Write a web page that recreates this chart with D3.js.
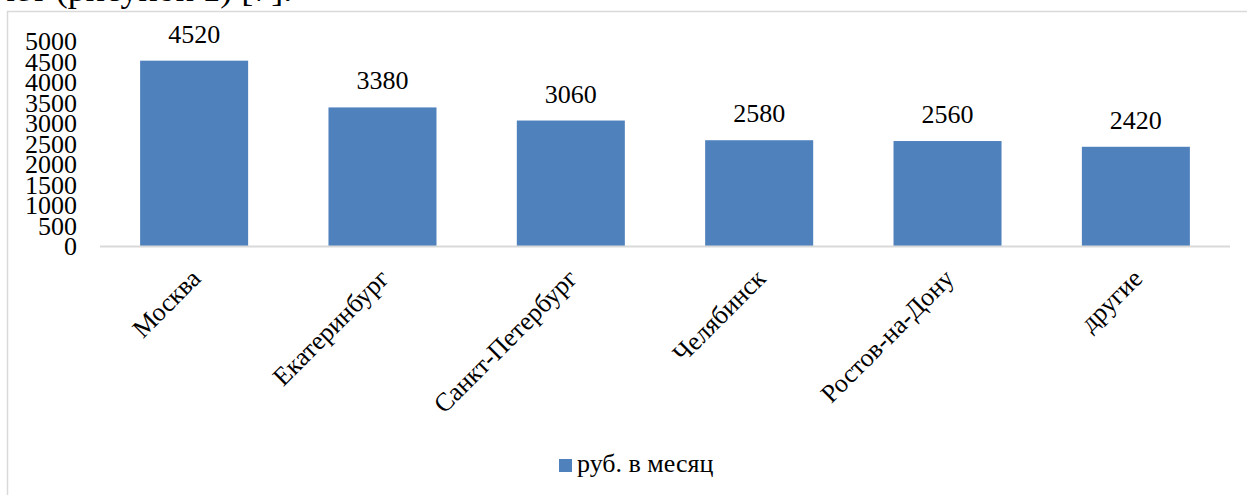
<!DOCTYPE html>
<html>
<head>
<meta charset="utf-8">
<script src="https://cdn.jsdelivr.net/npm/d3@7"></script>
<style>
  body { margin: 0; background: #fff; }
  svg text { font-family: "Times New Roman", "Liberation Serif", serif !important; fill: #000; }
</style>
</head>
<body>
<svg></svg>
<script>
// data
var cities = ["Москва", "Екатеринбург", "Санкт-Петербург", "Челябинск", "Ростов-на-Дону", "другие"];
var rubPerMonth = [4520, 3380, 3060, 2580, 2560, 2420];
var yTicks = [0, 500, 1000, 1500, 2000, 2500, 3000, 3500, 4000, 4500, 5000];
var seriesName = "руб. в месяц";
var cutText = "чет (рисунок 1) [7].";

var screen = {width: 1247, height: 495};
var margins = {top: 41, right: 17, bottom: 249, left: 100};
var barColor = "#4F81BD";
var gridColor = "#D9D9D9";
var serif = "'Liberation Serif', 'Times New Roman', serif";

var svg = d3.select("svg")
    .attr("width", screen.width)
    .attr("height", screen.height)
    .attr("font-family", serif);

// piece of the document text above the chart
svg.append("text")
    .attr("x", -3)
    .attr("y", 1)
    .attr("font-family", serif)
    .style("font-size", "36px")
    .text(cutText);

// chart border
svg.append("rect")
    .attr("x", 7.5)
    .attr("y", 11.5)
    .attr("width", 1300)
    .attr("height", 600)
    .attr("fill", "none")
    .attr("stroke", gridColor)
    .attr("stroke-width", 1.5);

var baseY = 246;

var xScale = d3.scaleBand()
    .domain(cities)
    .range([margins.left, 1230])
    .paddingInner(0.4265)
    .paddingOuter(0.213);

var yScale = d3.scaleLinear()
    .domain([0, 5000])
    .range([baseY, margins.top]);

// y axis labels only
var yAxis = d3.axisLeft(yScale)
    .tickValues(yTicks)
    .tickFormat(d3.format("d"))
    .tickSize(0)
    .tickPadding(0);

var gy = svg.append("g")
    .attr("transform", "translate(77,0)")
    .call(yAxis)
    .attr("font-family", serif)
    .attr("font-size", 26);
gy.select(".domain").remove();
gy.selectAll("text")
    .attr("dy", "0.34em")
    .attr("fill", "#000");

// bars
svg.append("g")
    .selectAll("rect")
    .data(rubPerMonth)
    .enter()
    .append("rect")
    .attr("x", function(d, i) { return xScale(cities[i]); })
    .attr("y", function(d) { return yScale(d); })
    .attr("width", xScale.bandwidth())
    .attr("height", function(d) { return baseY - yScale(d); })
    .attr("fill", barColor);

// x axis line
svg.append("line")
    .attr("x1", margins.left)
    .attr("x2", 1230)
    .attr("y1", baseY + 0.5)
    .attr("y2", baseY + 0.5)
    .attr("stroke", gridColor)
    .attr("stroke-width", 2);

// value labels
svg.append("g")
    .selectAll("text")
    .data(rubPerMonth)
    .enter()
    .append("text")
    .attr("x", function(d, i) { return xScale(cities[i]) + xScale.bandwidth() / 2; })
    .attr("y", function(d) { return yScale(d) - 18; })
    .attr("text-anchor", "middle")
    .style("font-size", "26px")
    .text(function(d) { return d; });

// rotated category labels
svg.append("g")
    .selectAll("text")
    .data(cities)
    .enter()
    .append("text")
    .attr("transform", function(d) {
        var cx = xScale(d) + xScale.bandwidth() / 2 + 8;
        return "translate(" + cx + "," + (baseY + 34) + ") rotate(-45)";
    })
    .attr("text-anchor", "end")
    .style("font-size", "26px")
    .text(function(d) { return d; });

// legend
var legend = svg.append("g").attr("transform", "translate(559,459)");
legend.append("rect")
    .attr("width", 13)
    .attr("height", 13)
    .attr("fill", barColor);
legend.append("text")
    .attr("x", 18)
    .attr("y", 13)
    .style("font-size", "26px")
    .text(seriesName);
</script>
</body>
</html>
